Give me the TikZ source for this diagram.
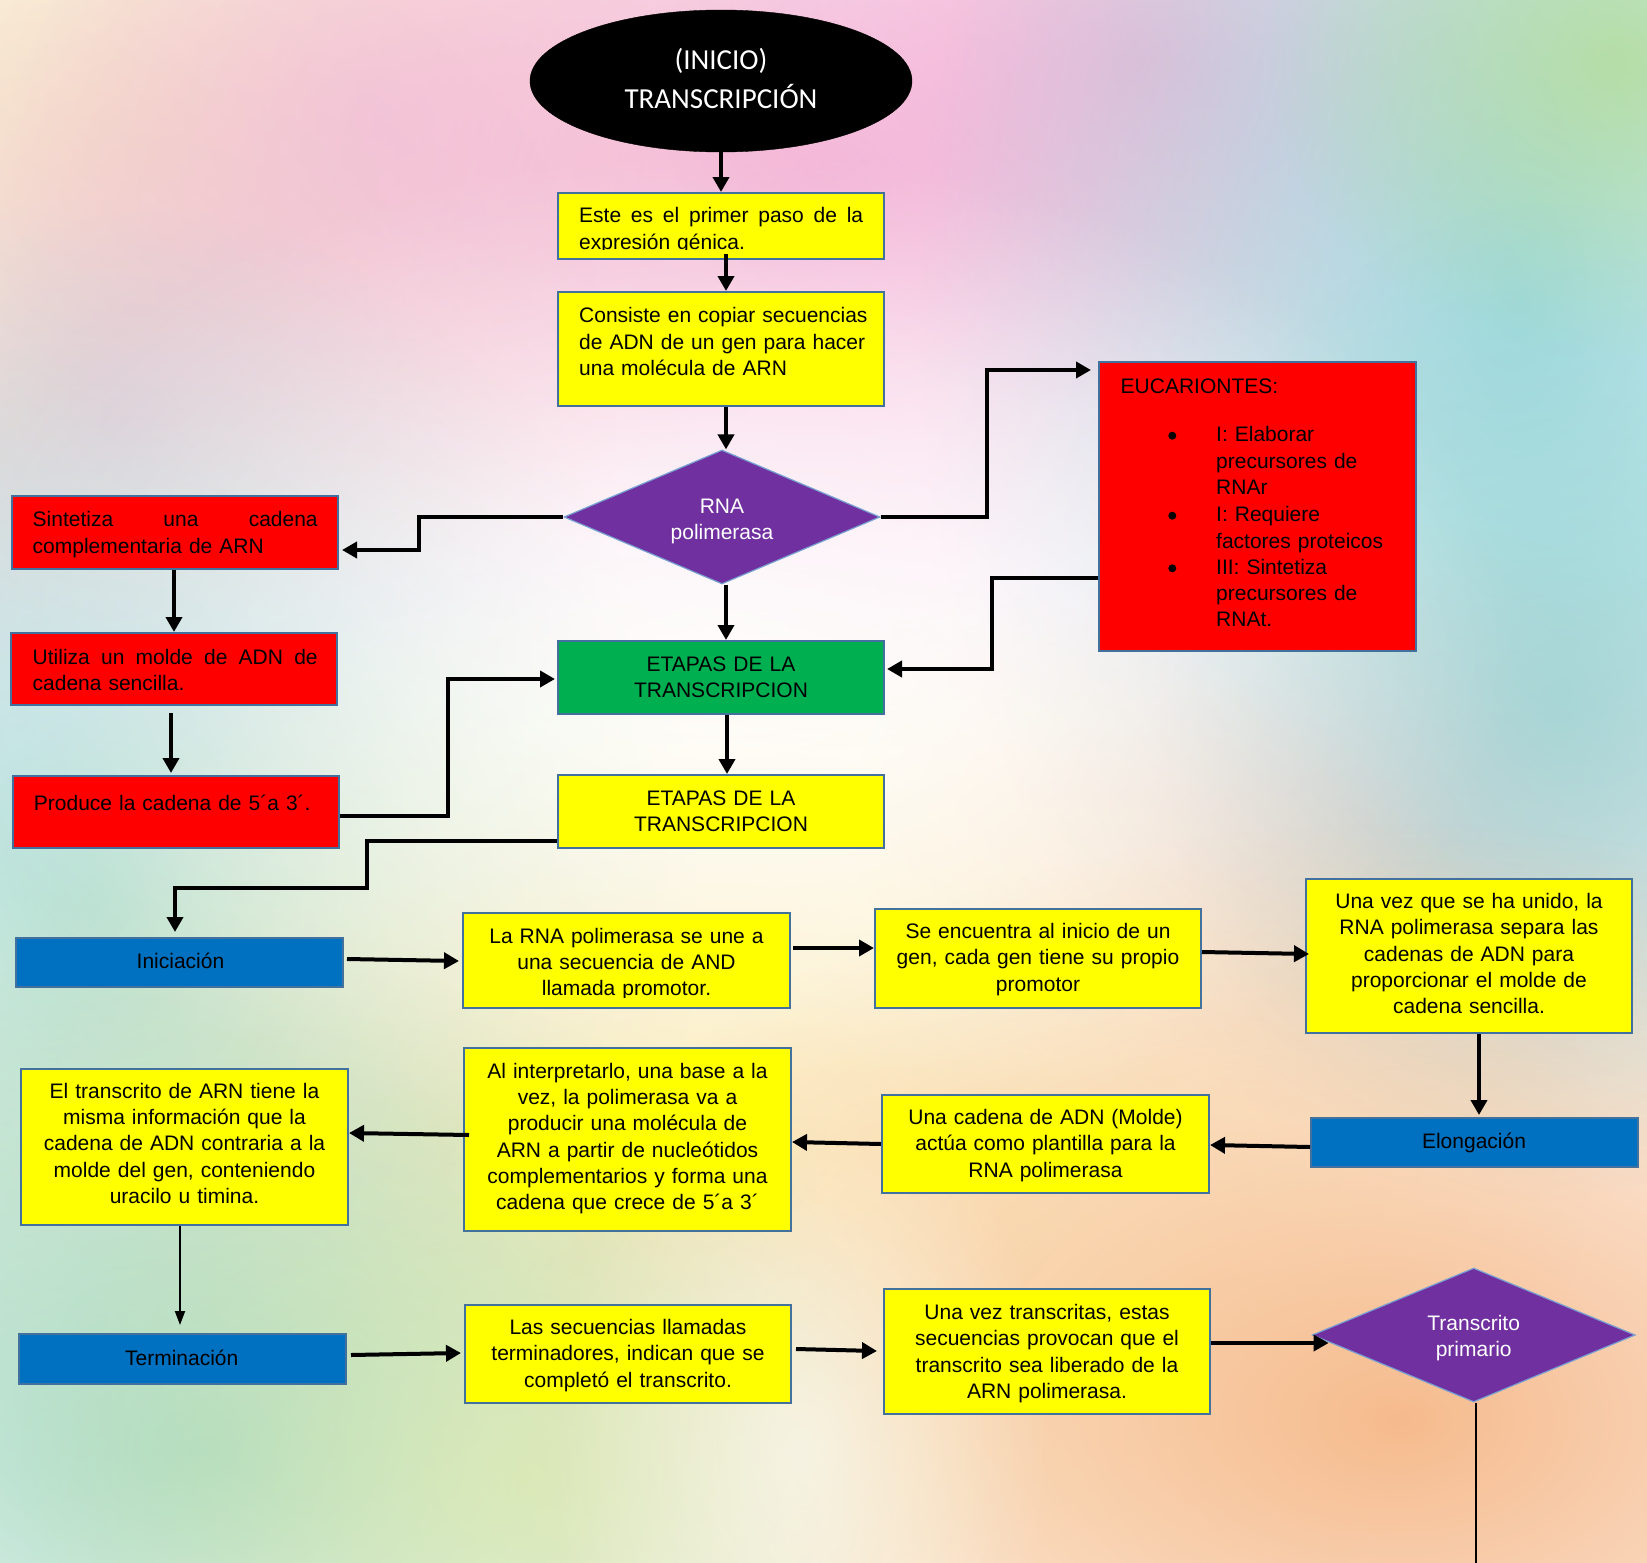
\documentclass[tikz,border=0pt]{standalone}
\usepackage{fontspec}
\setmainfont{Liberation Sans}
\newfontfamily\calibrifont{Carlito}
\usetikzlibrary{arrows.meta,shapes.geometric,fadings}
\definecolor{bordc}{RGB}{65,113,156}
\definecolor{diamc}{RGB}{120,160,210}
\definecolor{ylw}{RGB}{255,255,0}
\definecolor{rd}{RGB}{255,0,0}
\definecolor{grn}{RGB}{0,176,80}
\definecolor{blu}{RGB}{0,112,192}
\definecolor{prp}{RGB}{112,48,160}
\definecolor{bgA}{RGB}{250,240,180}
\definecolor{bgB}{RGB}{244,200,222}
\definecolor{bgC}{RGB}{243,170,210}
\definecolor{bgD}{RGB}{240,160,205}
\definecolor{bgE}{RGB}{150,215,220}
\definecolor{bgF}{RGB}{180,220,150}
\definecolor{bgG}{RGB}{236,190,215}
\definecolor{bgH}{RGB}{160,220,215}
\definecolor{bgI}{RGB}{240,180,180}
\definecolor{bgJ}{RGB}{150,210,210}
\definecolor{bgK}{RGB}{250,225,150}
\definecolor{bgL}{RGB}{245,180,130}
\definecolor{bgM}{RGB}{160,215,190}
\definecolor{bgN}{RGB}{225,235,170}
\tikzfading[name=softblob, inner color=transparent!0, outer color=transparent!100]
\begin{document}
\begin{tikzpicture}[x=1pt,y=-1pt,
  box/.style={draw=bordc, line width=2pt, inner sep=0pt},
  ybox/.style={box, fill=ylw},
  rbox/.style={box, fill=rd},
  gbox/.style={box, fill=grn},
  bbox/.style={box, fill=blu},
  pdiam/.style={shape=diamond, draw=diamc, line width=1.2pt, fill=prp, inner sep=0pt},
  txt/.style={inner sep=0pt, font=\fontsize{21}{26.3}\selectfont, text=black},
  ltxt/.style={txt, align=left, text width=#1, anchor=base west},
  ctxtb/.style={txt, align=center, text width=#1, anchor=base},
  bul/.style={circle, fill=black, inner sep=0pt, minimum size=8pt},
  arr/.style={line width=4pt, draw=black, -{Triangle[length=15pt,width=16pt]}},
  arrthin/.style={line width=2pt, draw=black, -{Triangle[length=14pt,width=10pt]}},
  plainline/.style={line width=2pt, draw=black},
  blob/.style={fill=#1, path fading=softblob}
]
\useasboundingbox (0,0) rectangle (1647,1563);
\fill[white] (0,0) rectangle (1647,1563);
\begin{scope}
\clip (0,0) rectangle (1647,1563);
\fill[blob=bgA, opacity=0.9] (150,150) ellipse [x radius=700pt, y radius=500pt];
\fill[blob=bgB, opacity=0.7] (380,120) ellipse [x radius=500pt, y radius=400pt];
\fill[blob=bgC, opacity=0.8] (800,200) ellipse [x radius=800pt, y radius=550pt];
\fill[blob=bgD, opacity=0.6] (1150,60) ellipse [x radius=500pt, y radius=350pt];
\fill[blob=bgE, opacity=0.9] (1520,300) ellipse [x radius=600pt, y radius=900pt];
\fill[blob=bgF, opacity=0.8] (1620,60) ellipse [x radius=350pt, y radius=300pt];
\fill[blob=bgG, opacity=0.7] (120,420) ellipse [x radius=500pt, y radius=500pt];
\fill[blob=bgH, opacity=0.85] (100,900) ellipse [x radius=600pt, y radius=700pt];
\fill[blob=bgI, opacity=0.5] (1350,820) ellipse [x radius=500pt, y radius=300pt];
\fill[blob=bgJ, opacity=0.7] (1560,700) ellipse [x radius=400pt, y radius=500pt];
\fill[blob=bgK, opacity=0.7] (700,1150) ellipse [x radius=900pt, y radius=600pt];
\fill[blob=bgL, opacity=0.9] (1400,1420) ellipse [x radius=900pt, y radius=600pt];
\fill[blob=bgM, opacity=0.85] (200,1450) ellipse [x radius=700pt, y radius=500pt];
\fill[blob=bgN, opacity=0.6] (520,1480) ellipse [x radius=500pt, y radius=400pt];
\fill[blob=white, opacity=0.8] (720,650) ellipse [x radius=800pt, y radius=500pt];
\fill[blob=white, opacity=0.6] (800,1450) ellipse [x radius=250pt, y radius=400pt];
\end{scope}

% ---- start ellipse
\node[shape=ellipse, fill=black, draw=black, inner sep=0pt, minimum width=382pt, minimum height=142pt] (inicio) at (721,81) {};
\node[inner sep=0pt, text=white, align=center, text width=380pt, anchor=base, font=\calibrifont\fontsize{29}{38.3}\selectfont] (iniciot) at (721,70) {(INICIO)\\TRANSCRIPCIÓN};

% ---- central column
\node[ybox, minimum width=326pt, minimum height=66pt] (paso1) at (721,226) {};
\begin{scope}
\clip (558,193) rectangle (884,249.6);
\node[ltxt=284pt] (paso1t) at (579,222.7) {Este\hfill es\hfill el\hfill primer\hfill paso\hfill de\hfill la\\expresión génica.};
\end{scope}

\node[ybox, minimum width=326pt, minimum height=114pt] (paso2) at (721,349) {};
\node[ltxt=292pt] (paso2t) at (579,322.7) {Consiste en copiar secuencias\\de ADN de un gen para hacer\\una molécula de ARN};

\node[pdiam, minimum width=316pt, minimum height=134pt] (rna) at (722,517) {};
\node[ctxtb=300pt, text=white] (rnat) at (722,513.5) {RNA\\polimerasa};

\node[gbox, minimum width=326pt, minimum height=73pt] (etg) at (721,677.5) {};
\node[ctxtb=320pt] (etgt) at (721,671) {ETAPAS DE LA\\TRANSCRIPCION};

\node[ybox, minimum width=326pt, minimum height=73pt] (ety) at (721,811.5) {};
\node[ctxtb=320pt] (etyt) at (721,805) {ETAPAS DE LA\\TRANSCRIPCION};

% ---- left red column
\node[rbox, minimum width=326pt, minimum height=73pt] (sint) at (175,532.5) {};
\node[ltxt=285pt] (sintt) at (32.5,526.7) {Sintetiza\hfill una\hfill cadena\\complementaria de ARN};

\node[rbox, minimum width=326pt, minimum height=72pt] (util) at (174,669) {};
\node[ltxt=285pt] (utilt) at (32.5,664) {Utiliza\hfill un\hfill molde\hfill de\hfill ADN\hfill de\\cadena sencilla.};

\node[rbox, minimum width=326pt, minimum height=72pt] (prod) at (176,812) {};
\node[ltxt=290pt] (prodt) at (33.7,810) {Produce la cadena de 5´a 3´.};

% ---- eucariontes
\node[rbox, minimum width=317pt, minimum height=289pt] (euca) at (1257.5,506.5) {};
\node[txt, anchor=base west] (eucah) at (1120.5,393.3) {EUCARIONTES:};
\node[bul] (b1) at (1172.3,435.7) {};
\node[bul] (b2) at (1172.3,515.7) {};
\node[bul] (b3) at (1172.3,568.3) {};
\node[ltxt=200pt] (e1) at (1216,441.7) {I: Elaborar\\precursores de\\RNAr};
\node[ltxt=200pt] (e2) at (1216,521.7) {I: Requiere\\factores proteicos};
\node[ltxt=200pt] (e3) at (1216,574) {III: Sintetiza\\precursores de\\RNAt.};

% ---- iniciacion row
\node[bbox, minimum width=327pt, minimum height=49pt] (inic) at (179.5,962.5) {};
\node[ctxtb=320pt] (inict) at (180.5,968.5) {Iniciación};

\node[ybox, minimum width=327pt, minimum height=95pt] (larna) at (626.5,960.5) {};
\begin{scope}
\clip (463,913) rectangle (790,997.3);
\node[ctxtb=320pt] (larnat) at (626.5,943.3) {La RNA polimerasa se une a\\una secuencia de AND\\llamada promotor.};
\end{scope}

\node[ybox, minimum width=326pt, minimum height=99pt] (seenc) at (1038,958.5) {};
\node[ctxtb=320pt] (seenct) at (1038,938.5) {Se encuentra al inicio de un\\gen, cada gen tiene su propio\\promotor};

\node[ybox, minimum width=326pt, minimum height=154pt] (unavez) at (1469,956) {};
\node[ctxtb=320pt] (unavezt) at (1469,908.5) {Una vez que se ha unido, la\\RNA polimerasa separa las\\cadenas de ADN para\\proporcionar el molde de\\cadena sencilla.};

% ---- elongacion row
\node[bbox, minimum width=327pt, minimum height=49pt] (elong) at (1474.5,1142.5) {};
\node[ctxtb=320pt] (elongt) at (1474,1148.3) {Elongación};

\node[ybox, minimum width=327pt, minimum height=98pt] (molde) at (1045.5,1144) {};
\node[ctxtb=320pt] (moldet) at (1045.5,1124.5) {Una cadena de ADN (Molde)\\actúa como plantilla para la\\RNA polimerasa};

\node[ybox, minimum width=327pt, minimum height=183pt] (interp) at (627.5,1139.5) {};
\node[ctxtb=320pt] (interpt) at (627.5,1078.3) {Al interpretarlo, una base a la\\vez, la polimerasa va a\\producir una molécula de\\ARN a partir de nucleótidos\\complementarios y forma una\\cadena que crece de 5´a 3´};

\node[ybox, minimum width=327pt, minimum height=156pt] (eltrans) at (184.5,1147) {};
\node[ctxtb=320pt] (eltranst) at (184.5,1098.3) {El transcrito de ARN tiene la\\misma información que la\\cadena de ADN contraria a la\\molde del gen, conteniendo\\uracilo u timina.};

% ---- terminacion row
\node[bbox, minimum width=327pt, minimum height=50pt] (term) at (182.5,1359) {};
\node[ctxtb=320pt] (termt) at (181.7,1365) {Terminación};

\node[ybox, minimum width=326pt, minimum height=98pt] (lassec) at (628,1354) {};
\node[ctxtb=320pt] (lassect) at (628,1334.5) {Las secuencias llamadas\\terminadores, indican que se\\completó el transcrito.};

\node[ybox, minimum width=326pt, minimum height=125pt] (unatrans) at (1047,1351.5) {};
\node[ctxtb=320pt] (unatranst) at (1047,1319.5) {Una vez transcritas, estas\\secuencias provocan que el\\transcrito sea liberado de la\\ARN polimerasa.};

\node[pdiam, minimum width=323pt, minimum height=134pt] (tprim) at (1473.7,1335) {};
\node[ctxtb=300pt, text=white] (tprimt) at (1473.7,1330.3) {Transcrito\\primario};

\coordinate (bot) at (1476,1563);

% ---- connectors
\draw[arr] (inicio.south) -- (paso1.north -| inicio.south);
\draw[arr] ([xshift=5pt,yshift=6pt]paso1.south) -- ([xshift=5pt]paso2.north);
\draw[arr] ([xshift=5pt]paso2.south) -- ([xshift=4pt]rna.north);
\draw[arr] (rna.west) -- (419,517) -- (419,550) -- ([yshift=-17.5pt,xshift=3pt]sint.east);
\draw[arr] (rna.east) -- (987,517) -- (987,370) -- ([yshift=136.5pt,xshift=-7pt]euca.west);
\draw[arr] ([yshift=-71.5pt]euca.west) -- (992,578) -- (992,669) -- ([yshift=8.5pt,xshift=2pt]etg.east);
\draw[arr] ([xshift=4pt]rna.south) -- ([xshift=5pt]etg.north);
\draw[arr] ([xshift=-1pt]sint.south) -- ([xshift=0pt]util.north);
\draw[arr] ([xshift=-3pt,yshift=-7pt]util.south) -- ([xshift=-5pt,yshift=2pt]prod.north);
\draw[arr] ([yshift=-4pt]prod.east) -- (448,816) -- (448,679) -- ([yshift=-1.5pt,xshift=-2pt]etg.west);
\draw[arr] ([xshift=6pt]etg.south) -- ([xshift=6pt]ety.north);
\draw[arr] ([yshift=-29.5pt]ety.west) -- (367,841) -- (367,888) -- (175,888) -- ([xshift=-4.5pt,yshift=5pt]inic.north);
\draw[arr] ([yshift=3.5pt,xshift=3pt]inic.east) -- ([yshift=-0.5pt,xshift=-3pt]larna.west);
\draw[arr] ([yshift=12.5pt,xshift=2pt]larna.east) -- ([yshift=10.5pt]seenc.west);
\draw[arr] ([yshift=6.5pt]seenc.east) -- ([yshift=2pt,xshift=4pt]unavez.west);
\draw[arr] ([xshift=10pt]unavez.south) -- ([xshift=4.5pt,yshift=2pt]elong.north);
\draw[arr] ([yshift=-4.5pt]elong.west) -- ([yshift=-1pt]molde.east);
\draw[arr] (molde.west) -- ([yshift=-2.5pt]interp.east);
\draw[arr] ([yshift=4.5pt,xshift=6pt]interp.west) -- ([yshift=14pt]eltrans.east);
\draw[arrthin] ([xshift=-4.5pt]eltrans.south) -- ([xshift=-2.5pt,yshift=8pt]term.north);
\draw[arr] ([yshift=4pt,xshift=4pt]term.east) -- ([yshift=1pt,xshift=-3pt]lassec.west);
\draw[arr] ([yshift=5pt,xshift=4pt]lassec.east) -- ([yshift=0.5pt,xshift=-6pt]unatrans.west);
\draw[arr] ([yshift=8.5pt]unatrans.east) -- ([yshift=-8pt,xshift=17pt]tprim.west);
\draw[plainline] ([xshift=2.3pt]tprim.south) -- (bot);
\end{tikzpicture}
\end{document}
